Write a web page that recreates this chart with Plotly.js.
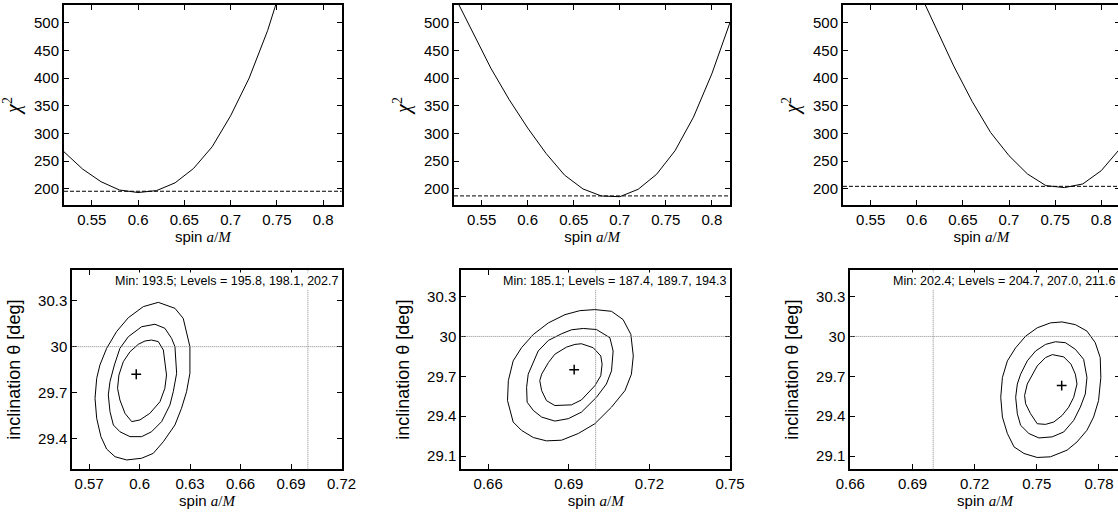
<!DOCTYPE html>
<html>
<head>
<meta charset="utf-8">
<script src="https://cdn.plot.ly/plotly-3.0.1.min.js"></script>
<style>
html,body{margin:0;padding:0;overflow:hidden;background:#fff;}
#chart{width:1120px;height:512px;}
</style>
</head>
<body>
<div id="chart"></div>
<script>
// ---------------- data ----------------
const spinGrid = [0.52,0.54,0.56,0.58,0.60,0.62,0.64,0.66,0.68,0.70,0.72,0.74,0.76,0.78,0.80,0.82];
const chi2A = [267,236,213,198,193.5,197,211,237,276,332,400,486,592,null,null,null];
const chi2B = [550,484,418,361,310,264,225,200,187.3,186,199.4,226.5,269,329.5,408,502];
const chi2C = [null,null,null,null,565,492,422,358,302,260,227,206,202.4,209,233,272];

const minChi2 = [193.5, 185.1, 202.4];
const levelsA = [195.8, 198.1, 202.7];
const levelsB = [187.4, 189.7, 194.3];
const levelsC = [204.7, 207.0, 211.6];

const bestSpin = [0.598, 0.692, 0.762];
const bestIncl = [29.82, 29.75, 29.63];
const trueSpin = 0.7;
const trueIncl = 30;

const topXTicks = [0.55,0.6,0.65,0.7,0.75,0.8];
const topYTicks = [200,250,300,350,400,450,500];
const botYTicks = [29.1,29.4,29.7,30,30.3];
const botXTicksA = [0.57,0.6,0.63,0.66,0.69,0.72];
const botXTicksB = [0.66,0.69,0.72,0.75];
const botXTicksC = [0.66,0.69,0.72,0.75,0.78];

// contour lines (spin, inclination)
const a1x = [0.6071,0.6111,0.6141,0.6150,0.6160,0.6150,0.6121,0.6061,0.6002,0.5953,0.5913,0.5883,0.5869,0.5877,0.5903,0.5943,0.5992,0.6032];
const a1y = [30.043,30.033,29.978,29.902,29.815,29.728,29.641,29.565,29.522,29.511,29.565,29.652,29.728,29.815,29.902,29.967,30.015,30.037];
const a2x = [0.6091,0.6150,0.6190,0.6210,0.6220,0.6200,0.6180,0.6131,0.6071,0.6012,0.5943,0.5883,0.5844,0.5824,0.5814,0.5824,0.5850,0.5883,0.5933,0.6012];
const a2y = [30.146,30.120,30.054,30.000,29.826,29.706,29.619,29.511,29.445,29.413,29.413,29.445,29.489,29.576,29.685,29.772,29.880,29.989,30.065,30.130];
const a3x = [0.6111,0.6210,0.6259,0.6279,0.6299,0.6299,0.6279,0.6249,0.6210,0.6141,0.6081,0.6012,0.5923,0.5854,0.5804,0.5770,0.5745,0.5735,0.5745,0.5764,0.5804,0.5863,0.5933,0.6022];
const a3y = [30.289,30.250,30.185,30.098,30.000,29.826,29.706,29.598,29.489,29.380,29.304,29.272,29.261,29.282,29.332,29.413,29.532,29.663,29.793,29.880,29.989,30.098,30.189,30.261];

const b1x = [0.6947,0.6991,0.7019,0.7024,0.7019,0.6997,0.6947,0.6910,0.6848,0.6817,0.6799,0.6792,0.6799,0.6824,0.6848,0.6892,0.6923];
const b1y = [29.945,29.915,29.853,29.791,29.704,29.629,29.522,29.485,29.480,29.517,29.592,29.667,29.716,29.803,29.866,29.920,29.940];
const b2x = [0.6954,0.7003,0.7053,0.7065,0.7059,0.7040,0.7003,0.6947,0.6898,0.6848,0.6799,0.6768,0.6745,0.6743,0.6749,0.6768,0.6786,0.6824,0.6873,0.6910];
const b2y = [30.060,30.052,29.990,29.890,29.741,29.642,29.542,29.430,29.381,29.363,29.393,29.443,29.505,29.617,29.716,29.803,29.890,29.970,30.020,30.050];
const b3x = [0.6997,0.7059,0.7102,0.7131,0.7140,0.7133,0.7109,0.7059,0.6997,0.6935,0.6873,0.6817,0.6768,0.6724,0.6693,0.6681,0.6672,0.6675,0.6693,0.6724,0.6768,0.6824,0.6886,0.6941];
const b3y = [30.202,30.189,30.127,30.015,29.853,29.716,29.592,29.468,29.343,29.269,29.219,29.214,29.239,29.293,29.356,29.443,29.517,29.667,29.816,29.915,30.015,30.102,30.164,30.194];

const c1x = [0.7575,0.7630,0.7665,0.7686,0.7694,0.7678,0.7654,0.7622,0.7582,0.7542,0.7502,0.7470,0.7446,0.7441,0.7454,0.7478,0.7502,0.7542];
const c1y = [29.863,29.846,29.791,29.716,29.642,29.542,29.468,29.405,29.356,29.338,29.343,29.418,29.493,29.555,29.642,29.716,29.778,29.841];
const c2x = [0.7590,0.7638,0.7686,0.7726,0.7742,0.7734,0.7710,0.7678,0.7630,0.7574,0.7510,0.7462,0.7422,0.7406,0.7398,0.7406,0.7422,0.7454,0.7494,0.7542];
const c2y = [29.960,29.953,29.903,29.828,29.691,29.567,29.468,29.368,29.281,29.244,29.236,29.269,29.331,29.418,29.542,29.642,29.716,29.816,29.890,29.940];
const c3x = [0.7622,0.7686,0.7742,0.7782,0.7806,0.7809,0.7798,0.7774,0.7742,0.7694,0.7646,0.7566,0.7502,0.7438,0.7390,0.7358,0.7334,0.7326,0.7334,0.7358,0.7398,0.7446,0.7502,0.7566];
const c3y = [30.109,30.089,30.040,29.953,29.841,29.691,29.517,29.393,29.294,29.206,29.144,29.094,29.089,29.119,29.169,29.269,29.393,29.542,29.691,29.816,29.915,30.002,30.065,30.102];

// ---------------- layout geometry ----------------
const W = 1120, H = 512;
const dx = (l, r) => [l / W, Math.min(1, r / W)];
const dy = (t, b) => [1 - b / H, 1 - t / H];

const FONT = 'Liberation Sans, Arial, sans-serif';
const SERIF = "Liberation Serif, 'Times New Roman', serif";
const close = a => a.concat([a[0]]);

const traces = [];
const lineStyle = {color: '#000', width: 1};
[[chi2A, 'x', 'y'], [chi2B, 'x2', 'y2'], [chi2C, 'x3', 'y3']].forEach(([v, xa, ya]) => {
  traces.push({x: spinGrid, y: v, xaxis: xa, yaxis: ya, mode: 'lines', line: lineStyle, hoverinfo: 'skip'});
});
const contours = [
  [[a1x, a1y], [a2x, a2y], [a3x, a3y], 'x4', 'y4'],
  [[b1x, b1y], [b2x, b2y], [b3x, b3y], 'x5', 'y5'],
  [[c1x, c1y], [c2x, c2y], [c3x, c3y], 'x6', 'y6']
];
contours.forEach((c, i) => {
  const xa = c[3], ya = c[4];
  [c[0], c[1], c[2]].forEach(([cx, cy]) => {
    traces.push({x: close(cx), y: close(cy), xaxis: xa, yaxis: ya, mode: 'lines', line: lineStyle, hoverinfo: 'skip'});
  });
  traces.push({x: [bestSpin[i]], y: [bestIncl[i]], xaxis: xa, yaxis: ya, mode: 'markers',
    marker: {symbol: 'cross-thin', size: 7, line: {color: '#000', width: 1.5}}, hoverinfo: 'skip'});
});

function axisBase(extra) {
  return Object.assign({
    showgrid: false, zeroline: false, showline: true, linecolor: '#000', linewidth: 2,
    mirror: 'allticks', ticks: 'inside', ticklen: 5, tickwidth: 1, tickcolor: '#000',
    tickfont: {family: FONT, size: 15, color: '#000'}, fixedrange: true
  }, extra);
}
const spinTitle = {text: 'spin <span style="font-family:' + SERIF + '"><i>a</i>/<i>M</i></span>',
  font: {family: FONT, size: 15, color: '#000'}, standoff: 4};
const chiTitle = {text: '<span style="font-family:' + SERIF + '"><i>χ</i><sup>2</sup></span>',
  font: {family: FONT, size: 20, color: '#000'}, standoff: 8};
const inclTitle = {text: 'inclination θ [deg]', font: {family: FONT, size: 18, color: '#000'}, standoff: 13};

const layout = {
  width: W, height: H, margin: {l: 0, r: 0, t: 0, b: 0},
  paper_bgcolor: '#fff', plot_bgcolor: '#fff', showlegend: false,
  font: {family: FONT, size: 15, color: '#000'},
  shapes: [], annotations: []
};

const topCols = [[64, 341.7], [454, 730.3], [843, 1119.7]];
const botCols = [[72.3, 341.7], [461.3, 730.3], [850.3, 1119.7]];
const botXRanges = [[0.56, 0.7201], [0.65, 0.7501], [0.66, 0.79]];
const botYRanges = [[29.2, 30.5], [29.0, 30.5], [29.0, 30.5]];
const botXTicks = [botXTicksA, botXTicksB, botXTicksC];
const levels = [levelsA, levelsB, levelsC];

for (let i = 0; i < 3; i++) {
  const n = i + 1, m = i + 4;
  const sx = n === 1 ? '' : String(n);
  layout['xaxis' + sx] = axisBase({domain: dx(...topCols[i]), range: [0.52, 0.82], anchor: 'y' + sx,
    tickvals: topXTicks, title: spinTitle});
  layout['yaxis' + sx] = axisBase({domain: dy(5, 205), range: [171, 532], anchor: 'x' + sx,
    tickvals: topYTicks, title: chiTitle});
  layout['xaxis' + m] = axisBase({domain: dx(...botCols[i]), range: botXRanges[i], anchor: 'y' + m,
    tickvals: botXTicks[i], title: spinTitle});
  layout['yaxis' + m] = axisBase({domain: dy(270, 469.3), range: botYRanges[i], anchor: 'x' + m,
    tickvals: botYTicks, title: inclTitle});

  // dashed line at first contour level
  layout.shapes.push({type: 'line', xref: 'x' + sx + ' domain', x0: 0, x1: 1, yref: 'y' + sx,
    y0: levels[i][0], y1: levels[i][0], line: {color: '#000', width: 1, dash: '4px,2px'}});
  // true-value markers
  layout.shapes.push({type: 'line', xref: 'x' + m, x0: trueSpin, x1: trueSpin, yref: 'y' + m + ' domain',
    y0: 0, y1: 1, line: {color: '#888', width: 1, dash: '1px,1px'}});
  layout.shapes.push({type: 'line', xref: 'x' + m + ' domain', x0: 0, x1: 1, yref: 'y' + m,
    y0: trueIncl, y1: trueIncl, line: {color: '#888', width: 1, dash: '1px,1px'}});

  layout.annotations.push({
    xref: 'x' + m + ' domain', yref: 'y' + m + ' domain', x: 1, y: 1, xanchor: 'right', yanchor: 'top',
    xshift: -2, yshift: -2, showarrow: false, bgcolor: '#fff', borderpad: 1,
    text: 'Min: ' + minChi2[i].toFixed(1) + '; Levels = ' + levels[i].map(v => v.toFixed(1)).join(', '),
    font: {family: FONT, size: 12.5, color: '#000'}
  });
}

Plotly.newPlot('chart', traces, layout, {staticPlot: true, displayModeBar: false});
</script>
</body>
</html>
